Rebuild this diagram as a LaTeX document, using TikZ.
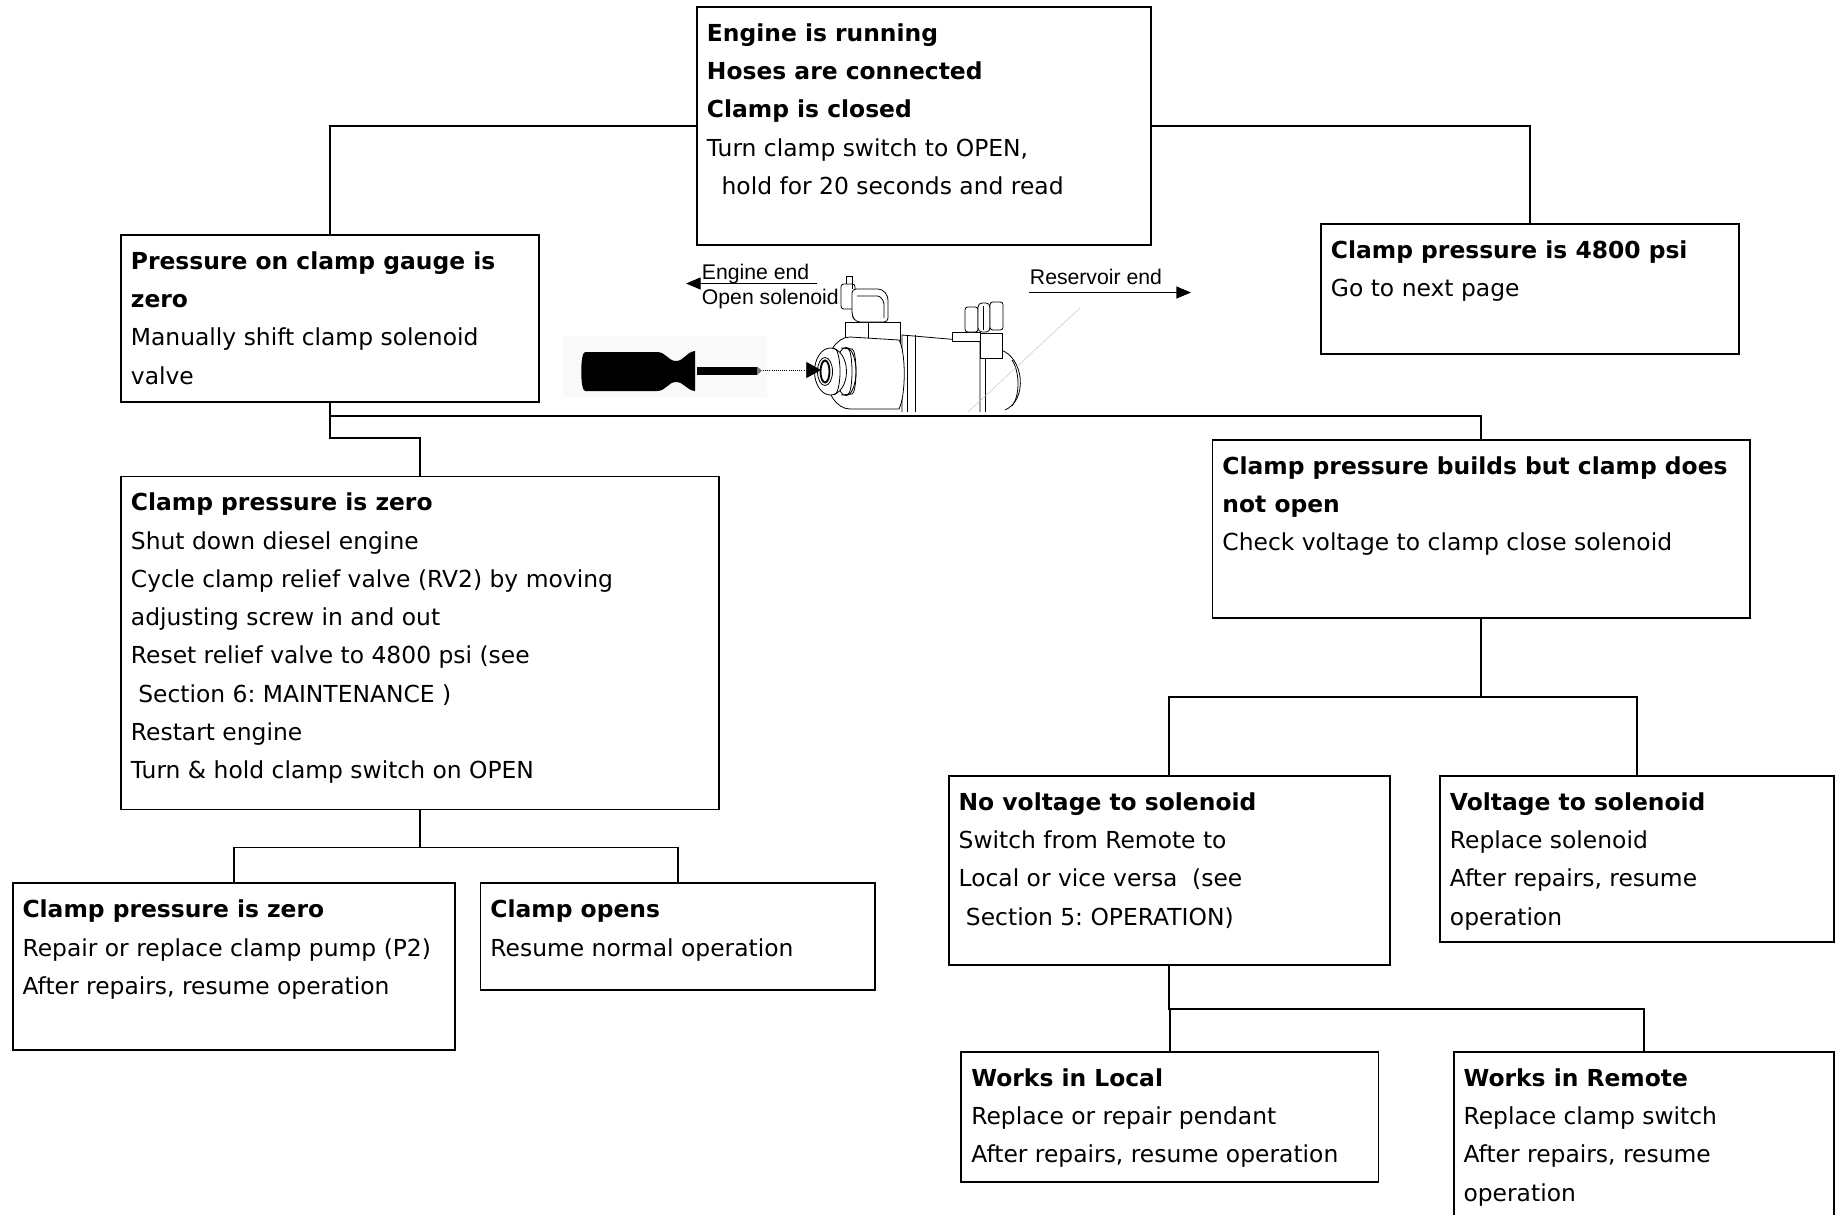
\documentclass[tikz,border=0pt]{standalone}
\usepackage{fontspec}
\setmainfont{DejaVu Sans}
\newfontfamily\labelfont{Liberation Sans}
\usetikzlibrary{arrows.meta,fit}
\frenchspacing

\tikzset{every picture/.style={line width=1.4pt}}

\begin{document}
\begin{tikzpicture}[x=0.75pt,y=0.75pt,yscale=-1,xscale=1,
	stepbox/.style={draw, rectangle, inner sep=0pt},
	steptext/.style={anchor=north west, align=left, inner sep=0pt, font=\fontsize{17.55}{28.7}\selectfont},
	partlabel/.style={anchor=base west, inner sep=0pt, font=\labelfont\fontsize{15.9}{18}\selectfont},
	part/.style={line width=0.6pt}]
	\useasboundingbox (0,0) rectangle (1845,1214);
	\clip (0,0) rectangle (1845,1214);

	%Shape: Rectangle
	\node[stepbox, fit={(697,7) (1151,245)}] (engine) {};
	%Shape: Rectangle
	\node[stepbox, fit={(121,235) (539,402)}] (gauge) {};
	%Shape: Rectangle
	\node[stepbox, fit={(1321,224) (1739,354)}] (psi) {};
	%Shape: Rectangle
	\node[stepbox, fit={(1212.5,440) (1750,617.7)}] (builds) {};
	%Shape: Rectangle
	\node[stepbox, fit={(121,476.5) (719,809.5)}] (reset) {};
	%Shape: Rectangle
	\node[stepbox, fit={(12.6,883.3) (455.2,1050)}] (pump) {};
	%Shape: Rectangle
	\node[stepbox, fit={(480.5,883.3) (875.4,990)}] (opens) {};
	%Shape: Rectangle
	\node[stepbox, fit={(948.7,776) (1390,965.4)}] (novolt) {};
	%Shape: Rectangle
	\node[stepbox, fit={(1440,776) (1834.4,941.6)}] (volt) {};
	%Shape: Rectangle
	\node[stepbox, fit={(961.4,1052) (1378.5,1181.7)}] (local) {};
	%Shape: Rectangle
	\node[stepbox, fit={(1453.6,1052) (1834.4,1240)}] (remote) {};

	%Connectors
	\draw (engine) -| (gauge);
	\draw (engine) -| (psi);
	\draw (gauge.south) -- ++(0,13) -| (builds);
	\draw (gauge.south) -- ++(0,35) -| (reset);
	\draw (reset.south) -- ++(0,37) -| (pump);
	\draw (reset.south) -- ++(0,37) -| (opens);
	\draw (builds.south) -- ++(0,78) -| (novolt);
	\draw (builds.south) -- ++(0,78) -| (volt);
	\draw (novolt.south) -- ++(0,43) -| (local);
	\draw (novolt.south) -- ++(0,43) -| (remote);

	% Text Node
	\node[steptext] (engineT) at (706,13.7) {\textbf{\strut Engine is running}\\\textbf{Hoses are connected}\\\textbf{Clamp is closed}\\Turn clamp switch to OPEN,\\\hspace*{11pt}hold for 20 seconds and read};
	% Text Node
	\node[steptext] (gaugeT) at (130,241.7) {\textbf{\strut Pressure on clamp gauge is}\\\textbf{zero}\\Manually shift clamp solenoid\\valve};
	% Text Node
	\node[steptext] (psiT) at (1330,230.7) {\textbf{\strut Clamp pressure is 4800 psi}\\Go to next page};
	% Text Node
	\node[steptext] (buildsT) at (1221.5,446.7) {\textbf{\strut Clamp pressure builds but clamp does}\\\textbf{not open}\\Check voltage to clamp close solenoid};
	% Text Node
	\node[steptext] (resetT) at (130,483.2) {\textbf{\strut Clamp pressure is zero}\\Shut down diesel engine\\Cycle clamp relief valve (RV2) by moving\\adjusting screw in and out\\Reset relief valve to 4800 psi (see\\\hspace*{5.5pt}Section 6: MAINTENANCE )\\Restart engine\\Turn \& hold clamp switch on OPEN};
	% Text Node
	\node[steptext] (pumpT) at (21.6,890) {\textbf{\strut Clamp pressure is zero}\\Repair or replace clamp pump (P2)\\After repairs, resume operation};
	% Text Node
	\node[steptext] (opensT) at (489.5,890) {\textbf{\strut Clamp opens}\\Resume normal operation};
	% Text Node
	\node[steptext] (novoltT) at (957.7,782.7) {\textbf{\strut No voltage to solenoid}\\Switch from Remote to\\Local or vice versa\hspace*{11pt}(see\\\hspace*{5.5pt}Section 5: OPERATION)};
	% Text Node
	\node[steptext] (voltT) at (1449,782.7) {\textbf{\strut Voltage to solenoid}\\Replace solenoid\\After repairs, resume\\operation};
	% Text Node
	\node[steptext] (localT) at (970.4,1058.7) {\textbf{\strut Works in Local}\\Replace or repair pendant\\After repairs, resume operation};
	% Text Node
	\node[steptext] (remoteT) at (1462.6,1058.7) {\textbf{\strut Works in Remote}\\Replace clamp switch\\After repairs, resume\\operation};

	%Shape: backdrop behind the screwdriver
	\fill[black!2.5] (563,336) rectangle (767,397);
	%Shape: screwdriver handle
	\fill (585,352) -- (657,352) .. controls (666,352) and (668,361) .. (676,361) .. controls (684,361) and (686,352) .. (695,351) -- (695,391) .. controls (686,390) and (684,382) .. (676,382) .. controls (668,382) and (666,391) .. (657,391) -- (585,391) .. controls (580,391) and (580,352) .. (585,352) -- cycle;
	%Shape: screwdriver blade
	\fill (697,366.5) rectangle (757,375);
	\fill[black!55] (757,366.5) -- (762,370.7) -- (757,375) -- cycle;

	%Shape: rear dome
	\draw[part] (1001,350) .. controls (1024,358) and (1028,400) .. (1005,410);
	\draw[part] (1012,360) .. controls (1020,372) and (1020,396) .. (1012,406);
	%Shape: valve body
	\fill[white] (902,335) -- (985,342) -- (985,412) -- (902,412) -- cycle;
	\draw[part] (902,412) -- (902,335) -- (980,341.7) -- (980,412);
	\draw[part] (907,336) -- (907,412);
	\draw[part] (915,335) -- (915,412);
	\draw[part] (985,342) -- (985,412);
	%Shape: rear coil housing
	\filldraw[part, fill=white] (952,332) rectangle (980,341);
	\filldraw[part, fill=white] (980,333) rectangle (1002,358);
	%Shape: rear plug
	\filldraw[part, fill=white, rounded corners=2] (965,307) rectangle (978,332);
	\filldraw[part, fill=white, rounded corners=3] (978,303) rectangle (990,332);
	\filldraw[part, fill=white, rounded corners=2] (990,302) rectangle (1003,330);
	\draw[part] (983,306) -- (983,330);
	%Shape: faint guide line
	\draw[black!25, line width=0.3pt] (968,412) -- (1080,308);

	%Shape: front coil housing
	\filldraw[part, fill=white] (845,322) rectangle (900,352);
	\draw[part] (868,322) -- (868,345);
	%Shape: front plug
	\filldraw[part, fill=white, rounded corners=2] (841,284) rectangle (855,309);
	\filldraw[part, fill=white, rounded corners=3] (852,289) -- (882,289) -- (888,296) -- (888,322) -- (856,322) -- (852,316) -- cycle;
	\draw[part, rounded corners=2] (857,296) -- (880,296) -- (884,302) -- (884,318);
	\draw[part] (846,284) -- (846,276) -- (852,276) -- (852,289);
	%Shape: coil
	\filldraw[part, fill=white] (850,337) arc (270:90:24 and 36) -- (899,409) .. controls (906,395) and (906,352) .. (899,340) -- cycle;
	%Shape: coil nose
	\filldraw[part, fill=white] (846,371.5) ellipse (10 and 24);
	\draw[part] (841,348) -- (852,349);
	\draw[part] (841,395) -- (852,394);
	\draw[part] (852,349) arc (270:450:4 and 22.5);
	\draw[part] (848,349) arc (270:450:4 and 22.5);
	\filldraw[part, fill=white] (830.5,371.5) ellipse (16 and 23.5);
	\draw[part] (834,348) arc (270:450:6 and 23.5);
	%Shape: manual override pin
	\draw[line width=1.4pt] (825,371.5) ellipse (4.5 and 11);
	\draw[part] (825,371.5) ellipse (7.5 and 14);

	%Straight Lines
	\draw[part, densely dotted, -{Triangle[length=11pt,width=12pt]}] (763,370) -- (821,370);

	%Straight Lines
	\coordinate (engineTail) at (817,283.5);
	\coordinate (engineHead) at (686,283.5);
	\draw[line width=1pt, -{Triangle[length=11pt,width=9pt]}] (engineTail) -- (engineHead);
	\coordinate (resTail) at (1029,292.5);
	\coordinate (resHead) at (1191,292.5);
	\draw[line width=1pt, -{Triangle[length=11pt,width=9pt]}] (resTail) -- (resHead);

	% Text Node
	\node[partlabel] (engineEnd) at (701,279) {Engine end};
	% Text Node
	\node[partlabel] (openSol) at (701,304) {Open solenoid};
	% Text Node
	\node[partlabel] (resEnd) at (1029,284) {Reservoir end};

\end{tikzpicture}
\end{document}
